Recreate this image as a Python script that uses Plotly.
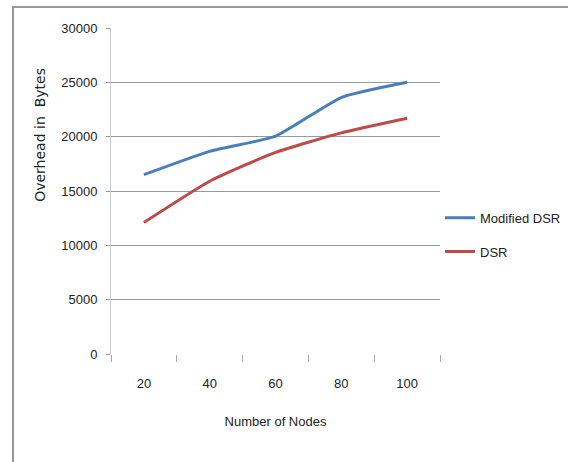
import plotly.graph_objects as go

nodes = ["20", "40", "60", "80", "100"]
modified_dsr = [16500, 18650, 20050, 23600, 25000]
dsr = [12100, 15900, 18550, 20350, 21700]
y_ticks = [0, 5000, 10000, 15000, 20000, 25000, 30000]
y_tick_labels = [str(v) for v in y_ticks]

FONT = "Liberation Sans, Arial, sans-serif"

fig = go.Figure()
fig.add_trace(go.Scatter(x=nodes, y=modified_dsr, mode="lines", name="Modified DSR",
                         legendgroup="a",
                         line=dict(color="#4A7EBB", width=3, shape="spline", smoothing=0.5)))
fig.add_trace(go.Scatter(x=nodes, y=dsr, mode="lines", name="DSR",
                         legendgroup="b",
                         line=dict(color="#BE4B48", width=3, shape="spline", smoothing=0.5)))

L, R, T, B = 111, 440, 28, 354.5
W, H = 568, 462
pw, ph = R - L, B - T

fig.update_layout(
    width=W, height=H,
    margin=dict(l=L, r=W - R, t=T, b=H - B, pad=0, autoexpand=False),
    paper_bgcolor="white", plot_bgcolor="white",
    font=dict(family=FONT, size=13, color="#222"),
    showlegend=True,
    legend=dict(x=1.0, xanchor="left", y=(B - 203) / ph, yanchor="top",
                traceorder="grouped", tracegroupgap=14,
                font=dict(family=FONT, size=13, color="#222"),
                itemwidth=30, bgcolor="rgba(0,0,0,0)"),
    xaxis=dict(type="category", range=[-0.5, 4.5], showgrid=False, zeroline=False,
               showline=False, ticks="outside", tickson="boundaries", ticklen=7,
               tickcolor="#aaa", tickwidth=1, tickfont=dict(family=FONT, size=13),
               automargin=False,
               title=dict(text="Number of Nodes", font=dict(family=FONT, size=13), standoff=26),
               ticklabelstandoff=20),
    yaxis=dict(range=[0, 30000], tickvals=y_ticks, ticktext=y_tick_labels, showgrid=True,
               gridcolor="#999", automargin=False,
               gridwidth=1.3, zeroline=False, showline=True, linecolor="#ccc", linewidth=1,
               ticks="outside", ticklen=4, tickcolor="#999",
               tickfont=dict(family=FONT, size=13), ticklabelstandoff=6),
    annotations=[dict(text="Overhead in  Bytes", textangle=-90, xref="paper", yref="paper",
                      x=(40 - L) / pw, y=(B - 135) / ph, xanchor="center", yanchor="middle",
                      showarrow=False,
                      font=dict(family="DejaVu Sans, Verdana, sans-serif", size=14, color="#222"))],
    shapes=[dict(type="rect", xref="paper", yref="paper",
                 x0=(13 - L) / pw, x1=(600 - L) / pw, y0=(B - 470) / ph, y1=(B - 7) / ph,
                 line=dict(color="#999", width=2), fillcolor="rgba(0,0,0,0)", layer="below")],
)

fig.write_html("out.html", config={"displayModeBar": False},
               post_script="document.body.style.margin='0';")
